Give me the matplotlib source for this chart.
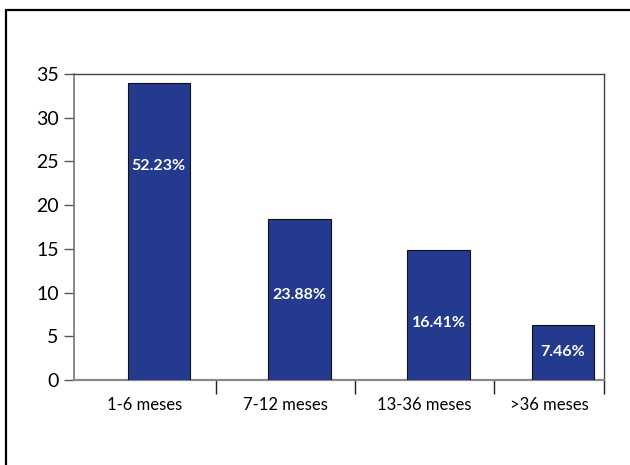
import matplotlib
matplotlib.use("Agg")
import matplotlib.pyplot as plt
from matplotlib.patches import Rectangle
import numpy as np

categories = ["1-6 meses", "7-12 meses", "13-36 meses", ">36 meses"]
values = [34.0, 18.4, 14.9, 6.3]
percent_labels = ["52.23%", "23.88%", "16.41%", "7.46%"]
y_ticks = [0, 5, 10, 15, 20, 25, 30, 35]

bar_color = "#233a8e"
label_frac = [0.72, 0.53, 0.44, 0.5]   # vertical placement of each label within its bar

fig = plt.figure(figsize=(6.3, 4.65), dpi=100)
fig.patch.set_facecolor("white")
ax = fig.add_axes([74 / 630, 1 - 380 / 465, 530 / 630, 306 / 465])

# category bands: the last band is cut short by the right edge of the plot
x_left, x_right = -0.52, 3.29
bounds = np.concatenate([[x_left], np.arange(len(categories) - 1) + 0.5, [x_right]])
centers = (bounds[:-1] + bounds[1:]) / 2
bar_x = centers + 0.1

ax.bar(bar_x, values, width=0.45, color=bar_color, edgecolor="#111111", linewidth=0.8, zorder=3)

for xi, v, lab, f in zip(bar_x, values, percent_labels, label_frac):
    ax.text(xi, v * f, lab, ha="center", va="center", color="white",
            fontsize=11.5, fontweight="bold", family=["Lato", "DejaVu Sans"], zorder=4)

ax.set_ylim(0, 35)
ax.set_yticks(y_ticks)
ax.set_yticklabels([str(t) for t in y_ticks], family=["Lato", "DejaVu Sans"], fontsize=14)
ax.set_xlim(x_left, x_right)

# category labels centred in their bands, tick marks on the band boundaries
ax.set_xticks(centers)
ax.set_xticklabels(categories, family=["Lato", "DejaVu Sans"], fontsize=12)
ax.tick_params(axis="x", which="major", length=0, pad=12)
ax.set_xticks(bounds[1:], minor=True)
ax.tick_params(axis="x", which="minor", length=10, width=1, color="#222222", direction="out")
ax.tick_params(axis="y", length=7, width=1, color="#555555", pad=4)

ax.spines["left"].set_color("#777777")
ax.spines["left"].set_linewidth(1.2)
ax.spines["bottom"].set_color("#8a8a8a")
ax.spines["bottom"].set_linewidth(1.6)
ax.spines["top"].set_color("#444444")
ax.spines["top"].set_linewidth(1.0)
ax.spines["right"].set_color("#444444")
ax.spines["right"].set_linewidth(1.0)

# outer frame around the whole graphic
fig.patches.append(Rectangle((6 / 630, -0.1), 1.2, 0.1 + (1 - 10 / 465),
                             transform=fig.transFigure, fill=False,
                             edgecolor="black", linewidth=1.6, clip_on=False))

fig.savefig("out.png", dpi=100)
